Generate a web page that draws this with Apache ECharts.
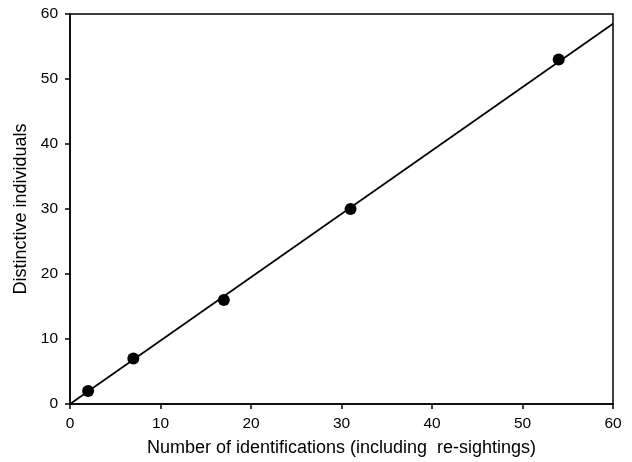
<!DOCTYPE html>
<html><head><meta charset="utf-8">
<script src="https://cdn.jsdelivr.net/npm/echarts@6/dist/echarts.min.js"></script>
<style>html,body{margin:0;padding:0;background:#fff}#c{width:632px;height:462px}</style>
</head><body><div id="c"></div>
<script>
var pointsX = [2, 7, 17, 31, 54];
var pointsY = [2, 7, 16, 30, 53];
var fitX = [0, 60];
var fitY = [0, 58.5];
var xTitle = 'Number of identifications (including  re-sightings)';
var yTitle = 'Distinctive individuals';

var chart = echarts.init(document.getElementById('c'));
var font = 'Liberation Sans, Arial, sans-serif';
chart.setOption({
  animation: false,
  backgroundColor: '#fff',
  grid: {left: 70, right: 19, top: 14, bottom: 57, show: true, borderColor: '#000', borderWidth: 1.5, backgroundColor: 'transparent'},
  xAxis: {
    type: 'value', min: 0, max: 60, interval: 10,
    name: xTitle, nameLocation: 'middle', nameGap: 35,
    nameTextStyle: {fontFamily: font, fontSize: 18, color: '#000'},
    axisLine: {show: true, lineStyle: {color: '#000', width: 1.5}},
    axisTick: {show: true, length: 5, inside: false, lineStyle: {color: '#000', width: 1.5}},
    axisLabel: {fontFamily: font, fontSize: 15.5, color: '#000', margin: 12},
    splitLine: {show: false}
  },
  yAxis: {
    type: 'value', min: 0, max: 60, interval: 10,
    name: yTitle, nameLocation: 'middle', nameGap: 40,
    nameTextStyle: {fontFamily: font, fontSize: 18, color: '#000'},
    axisLine: {show: true, lineStyle: {color: '#000', width: 1.5}},
    axisTick: {show: true, length: 5, inside: false, lineStyle: {color: '#000', width: 1.5}},
    axisLabel: {fontFamily: font, fontSize: 15.5, color: '#000', margin: 12},
    splitLine: {show: false}
  },
  series: [
    {type: 'line', data: fitX.map(function(x, i){return [x, fitY[i]];}), symbol: 'none',
     lineStyle: {color: '#000', width: 1.7}, z: 2, silent: true},
    {type: 'scatter', data: pointsX.map(function(x, i){return [x, pointsY[i]];}),
     symbol: 'circle', symbolSize: 12, itemStyle: {color: '#000', opacity: 1}, z: 3}
  ]
});
</script></body></html>
